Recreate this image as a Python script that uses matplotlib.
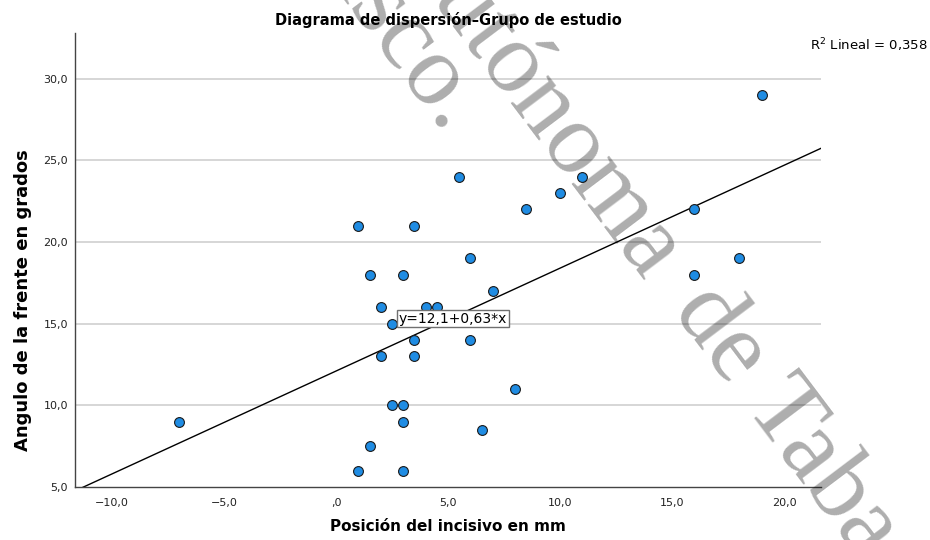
import numpy as np
import matplotlib.pyplot as plt

# datos (posicion del incisivo en mm, angulo de la frente)
pos_incisivo = [-7, 1, 1.5, 2, 2.5, 2, 3.5, 3, 4, 4.5, 3.5, 3.5, 2.5, 3, 3, 1.5,
                1, 3, 5.5, 6, 7, 6, 6.5, 8, 8.5, 10, 11, 16, 16, 18, 19]
angulo_frente = [9, 21, 18, 16, 15, 13, 21, 18, 16, 16, 14, 13, 10, 10, 9, 7.5,
                 6, 6, 24, 19, 17, 14, 8.5, 11, 22, 23, 24, 22, 18, 19, 29]

intercepto = 12.1
pendiente = 0.63

x_ticks = [-10, -5, 0, 5, 10, 15, 20]
y_ticks = [5, 10, 15, 20, 25, 30]


def etiqueta(v):
    s = "%.1f" % v
    s = s.replace(".", ",").replace("-", "\u2212")
    if s.startswith("0,"):
        s = s[1:]  # SPSS escribe ",0"
    return s


W, H = 930, 540
fig = plt.figure(figsize=(9.3, 5.4), dpi=100)
ax = fig.add_axes([75 / W, 1 - 487 / H, (821 - 75) / W, (487 - 33) / H])

xmin, xmax = -11.65, 21.65
ymin, ymax = 5, 32.8
ax.set_xlim(xmin, xmax)
ax.set_ylim(ymin, ymax)

for yt in y_ticks[1:]:
    ax.axhline(yt, color="#cfcfcf", lw=1.2, zorder=1)

# recta de regresion
xl = np.array([xmin, xmax])
ax.plot(xl, intercepto + pendiente * xl, color="black", lw=1, zorder=2)

ax.scatter(pos_incisivo, angulo_frente, s=50, c="#1f8ce3", edgecolors="#1a1a1a",
           linewidths=0.8, zorder=3)

ax.text(2.8, 15.3, "y=12,1+0,63*x", fontsize=10, va="center", ha="left", zorder=4,
        bbox=dict(boxstyle="square,pad=0.12", fc="white", ec="#707070", lw=1))

for side in ["top", "right"]:
    ax.spines[side].set_visible(False)
for side in ["left", "bottom"]:
    ax.spines[side].set_color("#444444")
    ax.spines[side].set_linewidth(1)

ax.set_xticks(x_ticks)
ax.set_xticklabels([etiqueta(v) for v in x_ticks])
ax.set_yticks(y_ticks)
ax.set_yticklabels([etiqueta(v) for v in y_ticks])
ax.tick_params(axis="both", length=0, labelsize=8, colors="#222222")
ax.tick_params(axis="x", pad=8)
ax.tick_params(axis="y", pad=5)

ax.set_xlabel("Posición del incisivo en mm", fontsize=11, fontweight="bold")
ax.xaxis.set_label_coords(0.5, -0.071)
ax.set_ylabel("Angulo de la frente en grados", fontsize=13, fontweight="bold")
ax.yaxis.set_label_coords(-0.057, 0.412)

fig.text(448 / W, 1 - 20 / H, "Diagrama de dispersión\u2013Grupo de estudio",
         ha="center", va="center", fontsize=10.5, fontweight="bold")
fig.text(928 / W, 1 - 45 / H, "R$^2$ Lineal = 0,358", ha="right", va="center",
         fontsize=9.5)

# marca de agua
marca = dict(rotation=-53, rotation_mode="anchor", va="baseline",
             family="Liberation Serif", fontsize=73, color="black", alpha=0.32,
             zorder=10)
fig.text(444 / W, 1 - 134 / H, "Juárez Autónoma de Tabasco.", ha="right", **marca)
fig.text(672 / W, 1 - 310 / H, "de Tabasco.", ha="left", **marca)
fig.text(644 / W, 1 - 281 / H, "Juárez Autónoma", ha="right", **marca)

fig.savefig("out.png", dpi=100)
